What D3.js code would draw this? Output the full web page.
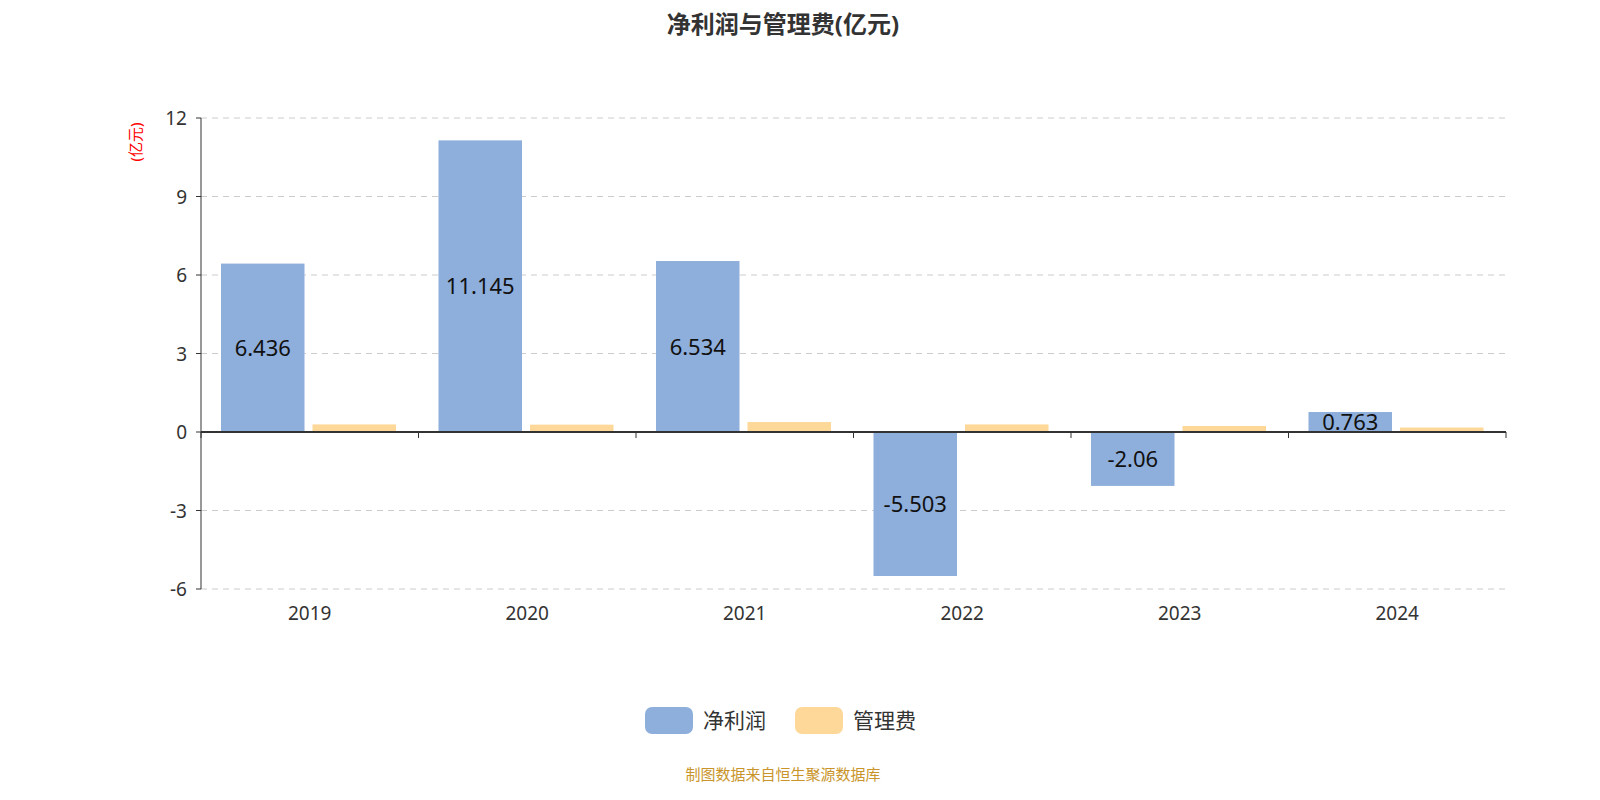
<!DOCTYPE html><html><head><meta charset="utf-8"><script src="https://cdn.jsdelivr.net/npm/d3@7"></script>
<style>body{margin:0;background:#fff}text{font-family:"Noto Sans","Noto Sans CJK SC",sans-serif}</style></head><body><svg id="c" width="1600" height="800"></svg><script>
const years=["2019","2020","2021","2022","2023","2024"];
const netProfit=[6.436,11.145,6.534,-5.503,-2.06,0.763];
const mgmtFee=[0.29,0.28,0.38,0.29,0.23,0.17];
const yTicks=[-6,-3,0,3,6,9,12];
const svg=d3.select("#c");
const L=201,R=1506,T=118,B=589;
const x=d3.scaleBand().domain(years).range([L,R]);
const y=d3.scaleLinear().domain([-6,12]).range([B,T]);
svg.append("text").attr("x",783).attr("y",33).attr("text-anchor","middle").attr("font-size",24).attr("font-weight","bold").attr("fill","#333").text("净利润与管理费(亿元)");
svg.selectAll(".g").data(yTicks).enter().append("line").attr("x1",L).attr("x2",R).attr("y1",d=>y(d)).attr("y2",d=>y(d)).attr("stroke","#ccc").attr("stroke-dasharray","6,5");
svg.append("line").attr("x1",L).attr("x2",L).attr("y1",T).attr("y2",B).attr("stroke","#333");
svg.selectAll(".yt").data(yTicks).enter().append("line").attr("x1",L-5).attr("x2",L).attr("y1",d=>y(d)).attr("y2",d=>y(d)).attr("stroke","#333");
svg.selectAll(".yl").data(yTicks).enter().append("text").attr("x",L-14).attr("y",d=>y(d)+7).attr("text-anchor","end").attr("font-size",19).attr("fill","#333").text(d=>d);
svg.append("text").attr("transform","translate(136,142) rotate(-90)").attr("text-anchor","middle").attr("dy","0.35em").attr("font-size",15).attr("fill","red").text("(亿元)");
const bw=83.5;
const g=svg.append("g");
years.forEach((yr,i)=>{
 const x0=x(yr)+20;
 const v=netProfit[i];
 g.append("rect").attr("x",x0).attr("width",bw).attr("y",y(Math.max(0,v))).attr("height",Math.abs(y(v)-y(0))).attr("fill","#8eaedb");
 const f=mgmtFee[i];
 g.append("rect").attr("x",x0+bw+8).attr("width",bw).attr("y",y(f)).attr("height",y(0)-y(f)).attr("fill","#fed898");
 g.append("text").attr("x",x0+bw/2).attr("y",(y(v)+y(0))/2+8).attr("text-anchor","middle").attr("font-size",22).attr("fill","#111").text(v);
});
svg.append("line").attr("x1",L).attr("x2",R).attr("y1",y(0)).attr("y2",y(0)).attr("stroke","#333").attr("stroke-width",2);
svg.selectAll(".xt").data(d3.range(7)).enter().append("line").attr("x1",d=>L+d*x.bandwidth()).attr("x2",d=>L+d*x.bandwidth()).attr("y1",y(0)).attr("y2",y(0)+6).attr("stroke","#333");
svg.selectAll(".xl").data(years).enter().append("text").attr("x",d=>x(d)+x.bandwidth()/2).attr("y",620).attr("text-anchor","middle").attr("font-size",19).attr("fill","#333").text(d=>d);
[["净利润","#8eaedb",645],["管理费","#fed898",795]].forEach(([t,c,lx])=>{
 svg.append("rect").attr("x",lx).attr("y",707).attr("width",48).attr("height",27).attr("rx",7).attr("fill",c);
 svg.append("text").attr("x",lx+58).attr("y",728).attr("font-size",21).attr("fill","#333").text(t);
});
svg.append("text").attr("x",783).attr("y",780).attr("text-anchor","middle").attr("font-size",15).attr("fill","#c9952a").text("制图数据来自恒生聚源数据库");
</script></body></html>
